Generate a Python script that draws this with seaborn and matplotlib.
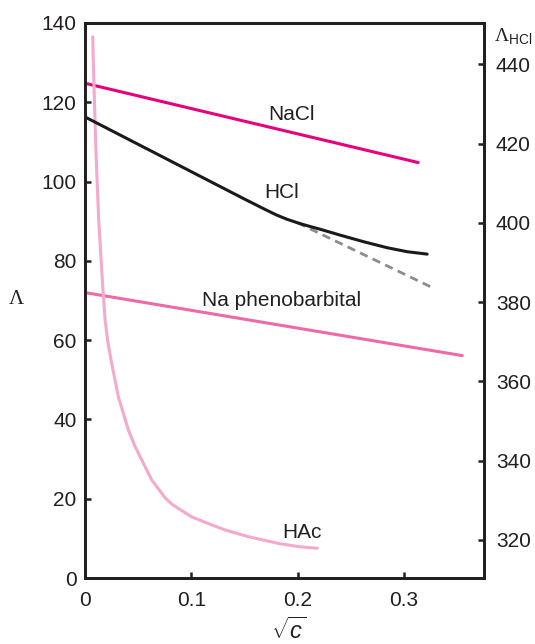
import matplotlib
matplotlib.use('Agg')
import matplotlib.pyplot as plt
import seaborn as sns

# x = sqrt(c)
nacl_x = [0.0, 0.3135]
nacl_y = [124.8, 104.8]

hcl_x = [0.0, 0.15, 0.17, 0.18, 0.19, 0.2, 0.21, 0.221, 0.24, 0.2626, 0.2846, 0.3034, 0.322]
hcl_y = [426.7, 406.0, 403.3, 402.0, 400.9, 400.0, 399.2, 398.4, 396.9, 395.2, 393.7, 392.7, 392.1]   # right axis (Lambda_HCl)

hcl_lim_x = [0.2, 0.325]
hcl_lim_y = [400.0, 383.9]

pheno_x = [0.0, 0.355]
pheno_y = [72.0, 56.1]

hac_x = [0.0073, 0.0078, 0.0085, 0.0094, 0.0104, 0.0116, 0.0129, 0.0148,
         0.0167, 0.0189, 0.0215, 0.0251, 0.0283, 0.0314, 0.0361, 0.0409,
         0.0472, 0.055, 0.0629, 0.0755, 0.0818, 0.091, 0.1006, 0.1163,
         0.132, 0.154, 0.1824, 0.2012, 0.2186]
hac_y = [136.5, 130.6, 123.9, 115.5, 107.1, 98.7, 90.3, 81.9,
         73.5, 65.1, 59.5, 54.1, 49.9, 45.7, 41.5, 37.3,
         33.1, 28.9, 24.7, 20.2, 18.6, 17.0, 15.4, 13.7,
         12.1, 10.4, 8.7, 7.9, 7.5]

left_ticks = [0, 20, 40, 60, 80, 100, 120, 140]
right_ticks = [320, 340, 360, 380, 400, 420, 440]
x_ticks = [0, 0.1, 0.2, 0.3]
x_ticklabels = ['0', '0.1', '0.2', '0.3']

sns.set_style('ticks')
plt.rcParams['font.family'] = ['Liberation Sans', 'DejaVu Sans']
plt.rcParams['mathtext.fontset'] = 'custom'
plt.rcParams['mathtext.rm'] = 'Liberation Serif'
plt.rcParams['mathtext.it'] = 'Liberation Sans:italic'
plt.rcParams['mathtext.sf'] = 'Liberation Sans'

spine_col = '#231f20'
text_col = '#231f20'

fig = plt.figure(figsize=(5.35, 6.44), dpi=100)
ax_ = fig.add_axes([85 / 535, 66 / 644, 399 / 535, 555 / 644])
ax2 = ax_.twinx()

sns.lineplot(x=nacl_x, y=nacl_y, ax=ax_, color='#e6007e', lw=2.2, legend=False)
sns.lineplot(x=pheno_x, y=pheno_y, ax=ax_, color='#ee6aa7', lw=2.2, legend=False)
sns.lineplot(x=hac_x, y=hac_y, ax=ax_, color='#f5a9cc', lw=2.2, legend=False)
sns.lineplot(x=hcl_lim_x, y=hcl_lim_y, ax=ax2, color='#8c8c8c', lw=2.0,
             linestyle=(0, (3, 2)), legend=False)
sns.lineplot(x=hcl_x, y=hcl_y, ax=ax2, color='#1a1a1a', lw=2.2, legend=False)

ax_.set_xlim(0, 0.3755)
ax_.set_ylim(0, 140)
ax2.set_ylim(310.4, 450.4)

ax_.set_xticks(x_ticks)
ax_.set_xticklabels(x_ticklabels)
ax_.set_yticks(left_ticks)
ax2.set_yticks(right_ticks)

for a in (ax_, ax2):
    for s in a.spines.values():
        s.set_visible(True)
        s.set_color(spine_col)
        s.set_linewidth(2.0)
    a.tick_params(direction='in', length=4, width=1.8, color=spine_col,
                  labelsize=15, labelcolor=text_col)

ax_.tick_params(axis='y', pad=6)
ax_.tick_params(axis='x', pad=9)
ax2.tick_params(axis='y', pad=8.5)

ax_.set_xlabel('')
ax2.set_ylabel('')
ax_.set_ylabel(r'$\Lambda$', fontsize=15, color=text_col, rotation=0,
               ha='center', va='center')
ax_.yaxis.set_label_coords(-0.173, 0.503)

fig.text(289 / 535, 1 - 631 / 644, r'$\sqrt{\mathit{c}}$', fontsize=17,
         color=text_col, ha='center', va='center')
fig.text(494 / 535, 1 - 36 / 644, r'$\Lambda_{\mathsf{HCl}}$', fontsize=14,
         color=text_col, ha='left', va='center')

label_kw = dict(fontsize=15, color=text_col, ha='center', va='center')
ax_.text(0.1943, 117.0, 'NaCl', **label_kw)
ax_.text(0.1854, 97.2, 'HCl', **label_kw)
ax_.text(0.185, 70.0, 'Na phenobarbital', **label_kw)
ax_.text(0.204, 11.6, 'HAc', **label_kw)

plt.savefig('out.png', dpi=100)
